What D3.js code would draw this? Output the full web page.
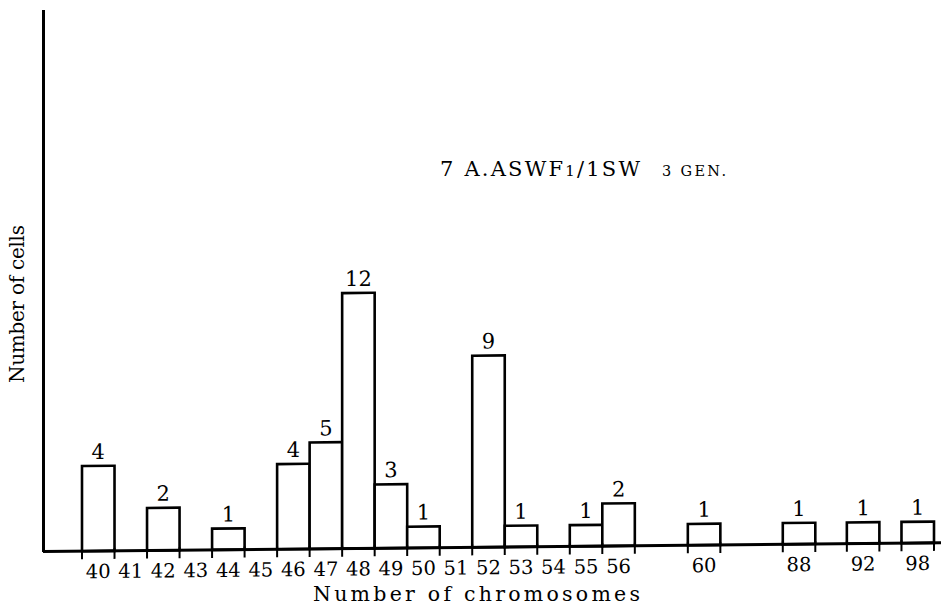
<!DOCTYPE html>
<html>
<head>
<meta charset="utf-8">
<script src="https://cdn.jsdelivr.net/npm/d3@7"></script>
<style>
  html, body { margin: 0; padding: 0; background: #fff; }
  svg { display: block; }
  text { font-family: "DejaVu Serif", "Liberation Serif", serif; fill: #000; }
</style>
</head>
<body>
<svg id="chart" width="941" height="607"></svg>
<script>
// ---- data ----
const categories = [40, 41, 42, 43, 44, 45, 46, 47, 48, 49, 50, 51, 52, 53, 54, 55, 56, 60, 88, 92, 98];
const cellCounts = [4, 0, 2, 0, 1, 0, 4, 5, 12, 3, 1, 0, 9, 1, 0, 1, 2, 1, 1, 1, 1];
const tickLabels = ["40","41","42","43","44","45","46","47","48","49","50","51","52","53","54","55","56","60","88","92","98"];
const titleMain = "7 A.ASWF";
const titleSub = "1";
const titleRest = "/1SW";
const titleGen = "3 GEN.";
const xTitle = "Number of chromosomes";
const yTitle = "Number of cells";

// ---- layout (axis breaks, in slot widths, before a category) ----
const breakBefore = { 60: 1.63, 88: 1.92, 92: 0.97, 98: 0.68 };

const svg = d3.select("#chart");
const W = 941, H = 607;

// slot index per category
const slotOf = {};
let pos = 0;
categories.forEach(c => { pos += (breakBefore[c] || 0); slotOf[c] = pos; pos += 1; });
const totalSlots = pos;

const x = d3.scaleLinear().domain([0, totalSlots]).range([82, 934]);
const y = d3.scaleLinear().domain([0, 25.45]).range([552, 10]);

// the scanned figure's baseline tilts slightly
const g = svg.append("g").attr("transform", "skewY(-0.56)");

// bars
const data = categories.map((c, i) => ({ c, v: cellCounts[i], label: tickLabels[i] }));
g.selectAll("rect.bar")
  .data(data.filter(d => d.v > 0))
  .join("rect")
  .attr("class", "bar")
  .attr("x", d => x(slotOf[d.c]))
  .attr("width", d => x(slotOf[d.c] + 1) - x(slotOf[d.c]))
  .attr("y", d => y(d.v))
  .attr("height", d => y(0) - y(d.v))
  .attr("fill", "#fff")
  .attr("stroke", "#000")
  .attr("stroke-width", 2.6);

// value labels
g.selectAll("text.val")
  .data(data.filter(d => d.v > 0))
  .join("text")
  .attr("class", "val")
  .attr("x", d => x(slotOf[d.c] + 0.5))
  .attr("y", d => y(d.v) - 7)
  .attr("text-anchor", "middle")
  .attr("font-size", 21)
  .text(d => d.v);

// x axis baseline
g.append("line")
  .attr("x1", 43).attr("x2", W)
  .attr("y1", y(0)).attr("y2", y(0))
  .attr("stroke", "#000").attr("stroke-width", 3);

// tick marks at slot boundaries
const bounds = new Set();
categories.forEach(c => { bounds.add(+(slotOf[c]).toFixed(3)); bounds.add(+(slotOf[c] + 1).toFixed(3)); });
g.selectAll("line.tick")
  .data(Array.from(bounds))
  .join("line")
  .attr("class", "tick")
  .attr("x1", d => x(d)).attr("x2", d => x(d))
  .attr("y1", y(0) - 3).attr("y2", y(0) + 8)
  .attr("stroke", "#000").attr("stroke-width", 2);

// tick labels
g.selectAll("text.tl")
  .data(data)
  .join("text")
  .attr("class", "tl")
  .attr("x", d => x(slotOf[d.c] + 0.5))
  .attr("y", y(0) + 27)
  .attr("text-anchor", "middle")
  .attr("font-size", 19.5)
  .text(d => d.label);

// y axis
svg.append("line")
  .attr("x1", 43.5).attr("x2", 43.5)
  .attr("y1", y(25.45)).attr("y2", y(0))
  .attr("stroke", "#000").attr("stroke-width", 3);

// axis titles
svg.append("text")
  .attr("x", 313).attr("y", 601)
  .attr("font-size", 20.5)
  .attr("textLength", 327).attr("lengthAdjust", "spacing")
  .text(xTitle);

svg.append("text")
  .attr("transform", "translate(24,383) rotate(-90)")
  .attr("font-size", 20)
  .attr("textLength", 158).attr("lengthAdjust", "spacing")
  .text(yTitle);

// title
const t = svg.append("text")
  .attr("x", 440).attr("y", 176)
  .attr("font-size", 21)
  .attr("textLength", 200).attr("lengthAdjust", "spacing");
t.append("tspan").text(titleMain);
t.append("tspan").attr("font-size", 15).text(titleSub);
t.append("tspan").text(titleRest);

svg.append("text")
  .attr("x", 662).attr("y", 176)
  .attr("font-size", 14.5)
  .attr("textLength", 64).attr("lengthAdjust", "spacing")
  .text(titleGen);
</script>
</body>
</html>
